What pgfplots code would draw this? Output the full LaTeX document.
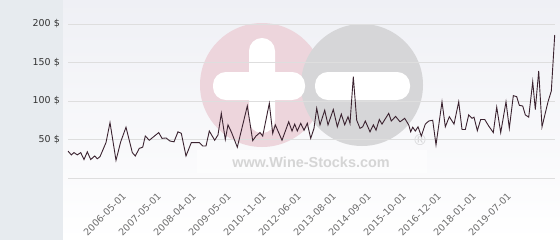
\documentclass[border=0pt]{standalone}
\usepackage{pgfplots}
\pgfplotsset{compat=1.18}
\usepackage{fontspec}
\setmainfont{DejaVu Sans}
\newfontfamily\wsfont{Liberation Sans}
\definecolor{panel}{HTML}{E7EBEF}
\definecolor{bgtop}{HTML}{EFF0F5}
\definecolor{pinkc}{HTML}{EDD5DC}
\definecolor{greyc}{HTML}{D6D6D8}
\definecolor{wmtext}{HTML}{D5D5D5}
\definecolor{linec}{HTML}{3B2330}
\definecolor{gridc}{HTML}{DEDEDE}
\definecolor{ytc}{HTML}{333333}
\definecolor{xtc}{HTML}{6E6E6E}
\pgfplotstableread{
x y
68 35
71.3 30
74 33
77.3 30
80.7 33
84 24
87.3 34
90.7 24
94.7 28.6
97.3 25
100 27.7
106 46
110 72
116 23
120.7 47
126 66
132.3 33
135.3 28.6
139.3 38.5
142.7 40
145.3 54.5
149.3 49
158.7 59
162 51.5
166 52
170 48
174 47
178 60
181.3 58
186 28.6
191.3 46
199.3 46
202.7 41.5
206 41.5
209.3 61
214.7 49
218 56
221.3 84
225.3 50
228 69
231.6 59
237.3 40
247.3 93.5
252.7 48.5
256 54.5
260 59
262.7 54.5
269.3 97
272.7 58
275.3 69
282 49
288.7 73
292 61
294.7 70
297.3 61
300.7 71
304 62
307.3 71
310.7 51.5
314 64.5
316.7 90.5
320 69
324.7 88
328 69
333.3 89
337.3 66.5
341.3 83
344.7 69
348 79.6
350 71
353.3 131.5
356.7 75
360 64.5
362.7 66.5
365.3 74
370 60
373.3 69
376 62
379.3 76
382 70
388.7 84
391.3 74
395.6 80
400 73
404.7 77.5
408.7 69
410.7 60
412.7 66
415.3 61
418 66.5
421.3 54.5
425.3 70
428.7 74
432.7 75
436 43
442 99
445.3 66.5
449.3 79.6
454 70
458.7 99
462 63
465.3 63
468.7 82
472 77.5
474 79
477.3 61.5
480.7 76
484.7 76
488.7 67.5
493.3 59
496.7 92
500.7 59
506 99
509.3 64.5
513.3 107
516.7 105.6
519.3 94.4
522.7 93.5
525.3 82
528.7 79
532.7 125
535.3 89
538.7 139
542 66.5
548 99
551.3 113
554.7 185.7
}\pricedata
\begin{document}
\begin{tikzpicture}
\begin{scope}[x=1bp,y=1bp]
\useasboundingbox (0,0) rectangle (560,240);
\fill[panel] (0,0) rectangle (63,240);
\shade[top color=bgtop, bottom color=white] (63,0) rectangle (560,240);
\fill[pinkc] (262,155) circle (62);
\fill[greyc] (362,155) circle (61);
\fill[white, rounded corners=13] (213,140) rectangle (305,168);
\fill[white, rounded corners=13] (249,107) rectangle (275,202);
\fill[white, rounded corners=13] (315,140) rectangle (410,168);
\fill[white, opacity=0.5] (197,67) rectangle (427,90);
\node[font=\wsfont\bfseries\fontsize{14.5}{16}\selectfont, text=wmtext] at (311,78) {www.Wine-Stocks.com};
\node[font=\fontsize{15}{15}\selectfont, text=greyc] at (420,100) {®};
\end{scope}
\begin{axis}[
  at={(68bp,62bp)}, anchor=south west,
  scale only axis, width=487bp, height=154bp,
  xmin=68, xmax=555, ymin=0, ymax=200,
  axis line style={draw=none},
  major tick length=0pt,
  ymajorgrids, grid style={gridc, line width=1bp},
  ytick={0,50,100,150,200},
  yticklabels={,50 \$,100 \$,150 \$,200 \$},
  yticklabel style={font=\fontsize{9.5}{11}\selectfont, text=ytc, anchor=east, inner sep=0pt, xshift=-8bp},
  xtick={123,158,193,228,263,298,333,368,403,438,473,508},
  xticklabels={2006-05-01,2007-05-01,2008-04-01,2009-05-01,2010-11-01,2012-06-01,2013-08-01,2014-09-01,2015-10-01,2016-12-01,2018-01-01,2019-07-01},
  xticklabel style={font=\fontsize{9.5}{11}\selectfont, text=xtc, rotate=45, anchor=north east, inner sep=0pt, yshift=-9bp, xshift=-11bp},
  /pgf/number format/assume math mode=true,
  clip=false,
]
\addplot[draw=linec, line width=0.9bp, no marks] table[x=x,y=y] {\pricedata};
\end{axis}
\end{tikzpicture}
\end{document}
